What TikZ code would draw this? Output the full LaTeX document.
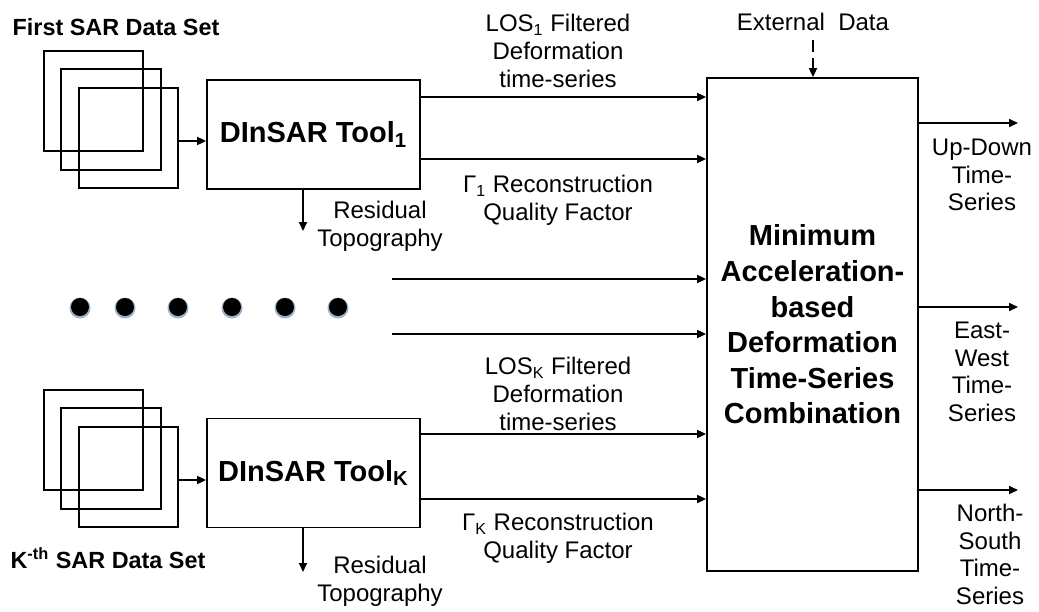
\documentclass[tikz,border=0pt]{standalone}
\usepackage{fontspec}
\setmainfont{Liberation Sans}
\usetikzlibrary{arrows.meta,positioning}
\definecolor{halo}{HTML}{9DB3CC}

\begin{document}
\begin{tikzpicture}[x=0.5pt,y=-0.5pt,
    >={Triangle[length=4.5pt,width=4pt]},line cap=butt,
    tool/.style={draw,line width=0.9pt,inner sep=0pt,
                 font=\fontsize{14.5}{17}\selectfont\bfseries,
                 minimum width=106.5pt,minimum height=54.5pt},
    combo/.style={draw,line width=0.9pt,inner sep=0pt,align=center,
                  font=\fontsize{14.5}{17.8}\selectfont\bfseries,
                  minimum width=105.5pt,minimum height=246.5pt},
    lab/.style={align=center,font=\fontsize{12}{14}\selectfont},
    outlab/.style={align=center,font=\fontsize{12}{13.8}\selectfont},
    setlab/.style={font=\fontsize{11.7}{13}\selectfont\bfseries},
    arr/.style={->,line width=0.9pt},
    stack/.style={line width=0.9pt}]
  \useasboundingbox (0,0) rectangle (1039,611);
  % --- pilas de imagenes SAR
  \foreach \y in {51,390}{
    \draw[stack] (44,\y) rectangle ++(99,100);
    \draw[stack] (61,\y+18) rectangle ++(100,101);
    \draw[stack] (79,\y+37) rectangle ++(99,100);
  }
  \node[setlab] (set1) at (116,27) {First SAR Data Set};
  \node[setlab] (setk) at (108,558) {K\textsuperscript{-th} SAR Data Set};
  % --- bloques DInSAR
  \node[tool] (tool1) at (313.5,134.5) {DInSAR Tool\textsubscript{1}};
  \node[tool] (toolk) at (313.5,473) {DInSAR Tool\textsubscript{K}};
  \coordinate (s1) at (178,141);
  \coordinate (sk) at (178,480);
  \draw[arr] (s1) -- (s1 -| tool1.west);
  \draw[arr] (sk) -- (sk -| toolk.west);
  % --- bloque de combinacion
  \node[combo] (main) at (812.5,324.5)
    {Minimum\\Acceleration-\\based\\Deformation\\Time-Series\\Combination};
  \node[lab] (ext) at (813,22) {External\ \ Data};
  \coordinate (extin) at (813,40);
  \draw[arr,dash pattern=on 6pt off 3pt] (extin) -- (extin |- main.north);
  % entradas
  \coordinate (los1) at (0,97);
  \coordinate (gam1) at (0,159);
  \coordinate (losk) at (0,434);
  \coordinate (gamk) at (0,499);
  \draw[arr] (tool1.east |- los1) -- (main.west |- los1);
  \draw[arr] (tool1.east |- gam1) -- (main.west |- gam1);
  \draw[arr] (toolk.east |- losk) -- (main.west |- losk);
  \draw[arr] (toolk.east |- gamk) -- (main.west |- gamk);
  \node[lab] (los1lab) at (558,51)
    {LOS\textsubscript{1} Filtered\\Deformation\\time-series};
  \node[lab] (gam1lab) at (558,200.5)
    {Γ\textsubscript{1} Reconstruction\\Quality Factor};
  \node[lab] (losklab) at (558,394)
    {LOS\textsubscript{K} Filtered\\Deformation\\time-series};
  \node[lab] (gamklab) at (558,538.5)
    {Γ\textsubscript{K} Reconstruction\\Quality Factor};
  % topografia residual
  \coordinate (res1) at (303,231);
  \coordinate (resk) at (303,572);
  \draw[arr] (res1 |- tool1.south) -- (res1);
  \draw[arr] (resk |- toolk.south) -- (resk);
  \node[lab] (res1lab) at (380,226.5) {Residual\\Topography};
  \node[lab] (resklab) at (380,581.5) {Residual\\Topography};
  % --- puntos y entradas intermedias
  \foreach \x in {80,125,178,232,285,338}{
    \fill[halo] (\x,308) circle (10.5);
    \fill[black] (\x,307) circle (9);
  }
  \coordinate (mida) at (392,279);
  \coordinate (midb) at (392,334);
  \draw[arr] (mida) -- (mida -| main.west);
  \draw[arr] (midb) -- (midb -| main.west);
  % --- salidas
  \coordinate (ud) at (1018,123);
  \coordinate (ew) at (1018,307);
  \coordinate (ns) at (1018,490);
  \draw[arr] (ud -| main.east) -- (ud);
  \draw[arr] (ew -| main.east) -- (ew);
  \draw[arr] (ns -| main.east) -- (ns);
  \node[outlab] (udlab) at (982,175) {Up-Down\\Time-\\Series};
  \node[outlab] (ewlab) at (982,372) {East-\\West\\Time-\\Series};
  \node[outlab] (nslab) at (990,554.5) {North-\\South\\Time-\\Series};
\end{tikzpicture}
\end{document}
